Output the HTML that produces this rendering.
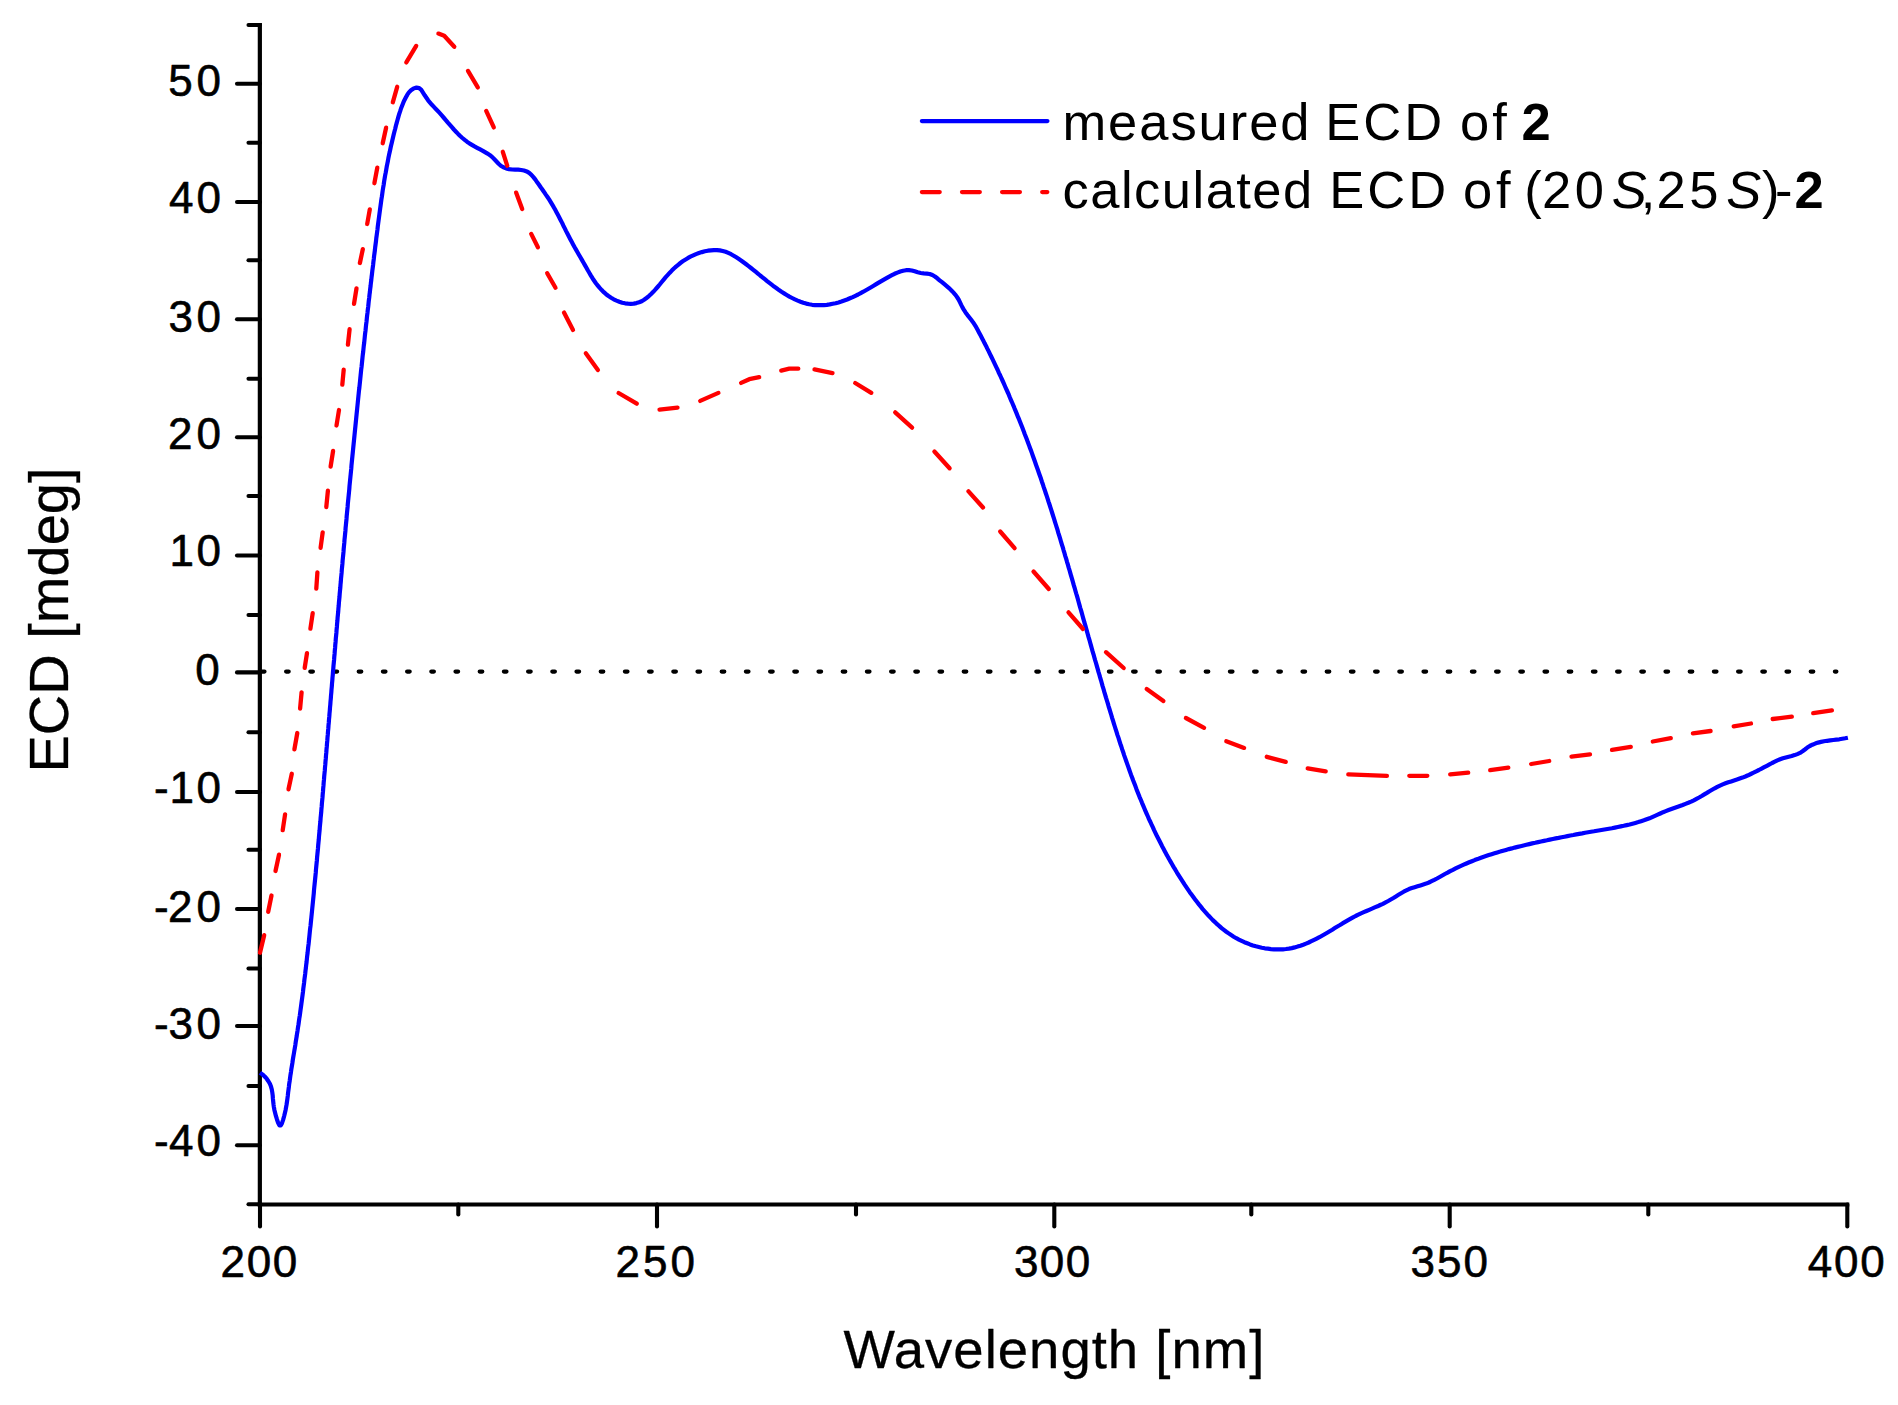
<!DOCTYPE html>
<html lang="en"><head><meta charset="utf-8"><title>ECD spectrum</title>
<style>html,body{margin:0;padding:0;background:#fff}body{width:1898px;height:1405px;overflow:hidden}svg{display:block}text{font-family:"Liberation Sans",sans-serif;fill:#000}</style></head><body>
<svg width="1898" height="1405" viewBox="0 0 1898 1405">
<rect width="1898" height="1405" fill="#fff"/>
<path d="M261.9,671.6H1836.4" stroke="#000" stroke-width="4.2" stroke-linecap="round" stroke-dasharray="2.6 21.6" fill="none"/>
<g stroke="#000" stroke-width="4.2" fill="none" stroke-linecap="butt">
<path d="M259.85,23.0V1206.5"/>
<path d="M257.85,1204.5H1849.3"/>
</g>
<g stroke="#000" stroke-width="4.1" fill="none" stroke-linecap="round">
<path d="M248.5,25.0H259.9"/>
<path d="M237.0,83.8H259.9"/>
<path d="M248.5,142.8H259.9"/>
<path d="M237.0,202.0H259.9"/>
<path d="M248.5,260.2H259.9"/>
<path d="M237.0,319.3H259.9"/>
<path d="M248.5,378.7H259.9"/>
<path d="M237.0,437.3H259.9"/>
<path d="M248.5,496.0H259.9"/>
<path d="M237.0,555.5H259.9"/>
<path d="M248.5,615.0H259.9"/>
<path d="M237.0,672.4H259.9"/>
<path d="M248.5,732.3H259.9"/>
<path d="M237.0,792.0H259.9"/>
<path d="M248.5,849.8H259.9"/>
<path d="M237.0,909.0H259.9"/>
<path d="M248.5,968.5H259.9"/>
<path d="M237.0,1026.0H259.9"/>
<path d="M248.5,1086.0H259.9"/>
<path d="M237.0,1145.2H259.9"/>
<path d="M248.5,1204.3H259.9"/>
<path d="M260.0,1204.5V1226.5"/>
<path d="M458.3,1204.5V1214.5"/>
<path d="M657.0,1204.5V1226.5"/>
<path d="M856.0,1204.5V1214.5"/>
<path d="M1054.3,1204.5V1226.5"/>
<path d="M1251.3,1204.5V1214.5"/>
<path d="M1449.7,1204.5V1226.5"/>
<path d="M1648.3,1204.5V1214.5"/>
<path d="M1847.3,1204.5V1226.5"/>
</g>
<path d="M260.0,1072.7L262.4,1074.4L264.7,1076.5L266.7,1078.7L268.4,1081.2L269.9,1083.8L271.0,1086.6L271.8,1089.5L272.3,1092.5L272.7,1095.5L272.9,1098.5L273.2,1101.5L273.5,1104.3L273.9,1107.1L274.4,1109.9L275.1,1112.8L275.9,1115.9L276.9,1119.2L278.1,1122.7L279.4,1125.3L280.7,1125.5L281.9,1123.4L283.1,1119.9L284.1,1116.2L284.9,1112.9L285.6,1109.9L286.1,1107.1L286.6,1104.4L287.0,1101.6L287.4,1098.7L287.8,1095.8L288.1,1092.8L288.5,1089.8L288.9,1086.8L289.2,1083.8L289.7,1080.8L290.1,1077.8L290.5,1074.8L291.0,1071.8L291.4,1068.8L291.9,1065.8L292.4,1062.9L292.8,1059.9L293.3,1056.9L293.8,1054.0L294.3,1051.0L294.8,1048.1L295.3,1045.1L295.7,1042.2L296.2,1039.2L296.7,1036.2L297.1,1033.3L297.6,1030.3L298.0,1027.4L298.5,1024.4L298.9,1021.4L299.3,1018.5L299.8,1015.5L300.2,1012.5L300.6,1009.5L301.0,1006.6L301.4,1003.6L301.8,1000.6L302.2,997.7L302.6,994.7L303.0,991.7L303.3,988.7L303.7,985.7L304.1,982.8L304.4,979.8L304.8,976.8L305.2,973.8L305.5,970.8L305.9,967.9L306.2,964.9L306.6,961.9L306.9,958.9L307.2,955.9L307.6,952.9L307.9,949.9L308.2,947.0L308.6,944.0L308.9,941.0L309.2,938.0L309.5,935.0L309.8,932.0L310.1,929.0L310.5,926.0L310.8,923.0L311.1,920.0L311.4,917.1L311.7,914.1L312.0,911.1L312.3,908.1L312.6,905.1L312.9,902.1L313.2,899.1L313.5,896.1L313.8,893.1L314.0,890.1L314.3,887.1L314.6,884.2L314.9,881.2L315.2,878.2L315.5,875.2L315.8,872.2L316.0,869.2L316.3,866.2L316.6,863.2L316.9,860.2L317.1,857.2L317.4,854.2L317.7,851.2L318.0,848.2L318.2,845.3L318.5,842.3L318.8,839.3L319.0,836.3L319.3,833.3L319.6,830.3L319.8,827.3L320.1,824.3L320.4,821.3L320.6,818.3L320.9,815.3L321.2,812.3L321.4,809.3L321.7,806.4L321.9,803.4L322.2,800.4L322.5,797.4L322.7,794.4L323.0,791.4L323.2,788.4L323.5,785.4L323.7,782.4L324.0,779.4L324.2,776.4L324.5,773.4L324.8,770.4L325.0,767.4L325.3,764.4L325.5,761.5L325.8,758.5L326.0,755.5L326.3,752.5L326.5,749.5L326.8,746.5L327.0,743.5L327.3,740.5L327.5,737.5L327.8,734.5L328.0,731.5L328.3,728.5L328.5,725.5L328.8,722.5L329.0,719.5L329.3,716.5L329.5,713.6L329.8,710.6L330.0,707.6L330.3,704.6L330.5,701.6L330.8,698.6L331.0,695.6L331.3,692.6L331.5,689.6L331.8,686.6L332.0,683.6L332.3,680.6L332.5,677.6L332.8,674.6L333.0,671.6L333.3,668.6L333.5,665.7L333.8,662.7L334.1,659.7L334.3,656.7L334.6,653.7L334.8,650.7L335.1,647.7L335.3,644.7L335.6,641.7L335.8,638.7L336.1,635.7L336.4,632.7L336.6,629.7L336.9,626.7L337.1,623.7L337.4,620.8L337.6,617.8L337.9,614.8L338.2,611.8L338.4,608.8L338.7,605.8L338.9,602.8L339.2,599.8L339.5,596.8L339.7,593.8L340.0,590.8L340.3,587.8L340.5,584.8L340.8,581.8L341.0,578.8L341.3,575.9L341.6,572.9L341.8,569.9L342.1,566.9L342.4,563.9L342.6,560.9L342.9,557.9L343.2,554.9L343.5,551.9L343.7,548.9L344.0,545.9L344.3,542.9L344.5,539.9L344.8,537.0L345.1,534.0L345.4,531.0L345.6,528.0L345.9,525.0L346.2,522.0L346.5,519.0L346.7,516.0L347.0,513.0L347.3,510.0L347.6,507.0L347.8,504.0L348.1,501.1L348.4,498.1L348.7,495.1L349.0,492.1L349.3,489.1L349.5,486.1L349.8,483.1L350.1,480.1L350.4,477.1L350.7,474.1L351.0,471.1L351.3,468.2L351.5,465.2L351.8,462.2L352.1,459.2L352.4,456.2L352.7,453.2L353.0,450.2L353.3,447.2L353.6,444.2L353.9,441.2L354.2,438.2L354.5,435.3L354.8,432.3L355.1,429.3L355.4,426.3L355.7,423.3L356.0,420.3L356.3,417.3L356.6,414.3L356.9,411.3L357.2,408.4L357.5,405.4L357.8,402.4L358.1,399.4L358.4,396.4L358.7,393.4L359.0,390.4L359.4,387.4L359.7,384.4L360.0,381.5L360.3,378.5L360.6,375.5L360.9,372.5L361.2,369.5L361.6,366.5L361.9,363.5L362.2,360.5L362.5,357.5L362.8,354.6L363.2,351.6L363.5,348.6L363.8,345.6L364.2,342.6L364.5,339.6L364.8,336.6L365.1,333.7L365.5,330.7L365.8,327.7L366.1,324.7L366.5,321.7L366.8,318.7L367.1,315.7L367.5,312.7L367.8,309.8L368.2,306.8L368.5,303.8L368.8,300.8L369.2,297.8L369.5,294.8L369.9,291.9L370.2,288.9L370.6,285.9L370.9,282.9L371.3,279.9L371.6,276.9L372.0,273.9L372.3,271.0L372.7,268.0L373.1,265.0L373.4,262.0L373.8,259.0L374.1,256.0L374.5,253.1L374.9,250.1L375.2,247.1L375.6,244.1L376.0,241.1L376.3,238.1L376.7,235.2L377.1,232.2L377.5,229.2L377.8,226.2L378.2,223.2L378.6,220.3L379.0,217.3L379.4,214.3L379.8,211.3L380.2,208.3L380.6,205.4L381.0,202.4L381.4,199.4L381.9,196.4L382.3,193.5L382.7,190.5L383.2,187.5L383.7,184.6L384.1,181.6L384.6,178.7L385.1,175.7L385.7,172.7L386.2,169.8L386.7,166.8L387.3,163.9L387.9,161.0L388.4,158.0L389.0,155.1L389.7,152.1L390.3,149.2L390.9,146.3L391.6,143.4L392.3,140.4L393.0,137.5L393.7,134.6L394.4,131.7L395.2,128.8L395.9,125.8L396.7,122.9L397.5,120.0L398.3,117.1L399.1,114.2L400.1,111.4L401.0,108.5L402.1,105.7L403.2,102.9L404.4,100.2L405.8,97.5L407.2,94.9L408.9,92.4L411.0,90.2L413.6,88.4L416.5,87.6L419.2,88.1L421.3,89.9L423.0,92.6L424.7,95.3L426.4,97.8L428.1,100.3L430.0,102.6L431.9,104.8L433.9,106.9L435.9,109.1L438.0,111.2L440.0,113.4L442.0,115.7L444.0,118.0L446.0,120.3L447.9,122.6L449.9,124.9L451.9,127.2L453.9,129.5L456.0,131.7L458.1,133.9L460.2,136.0L462.4,138.0L464.7,139.9L467.0,141.7L469.4,143.4L471.9,144.9L474.5,146.4L477.1,147.8L479.7,149.2L482.4,150.6L485.0,152.1L487.5,153.6L490.0,155.2L492.3,157.1L494.4,159.3L496.5,161.5L498.6,163.7L500.8,165.7L503.4,167.3L506.1,168.4L509.0,169.1L512.0,169.5L515.1,169.6L518.2,169.7L521.2,170.0L524.0,170.5L526.7,171.4L529.2,172.9L531.4,174.8L533.4,177.1L535.4,179.6L537.2,182.3L539.0,184.8L540.7,187.3L542.5,189.8L544.2,192.2L545.8,194.6L547.5,197.0L549.1,199.4L550.6,201.9L552.1,204.4L553.6,206.9L555.1,209.6L556.5,212.2L557.9,214.8L559.3,217.5L560.7,220.2L562.1,222.9L563.4,225.7L564.8,228.4L566.1,231.1L567.5,233.8L568.9,236.5L570.3,239.2L571.7,241.8L573.1,244.4L574.5,247.0L576.0,249.6L577.5,252.2L578.9,254.7L580.4,257.3L581.9,259.9L583.4,262.5L584.9,265.1L586.4,267.7L587.8,270.3L589.4,273.0L590.9,275.6L592.5,278.2L594.2,280.7L595.9,283.2L597.8,285.6L599.7,287.9L601.7,290.1L603.8,292.2L606.1,294.2L608.5,296.0L611.1,297.7L613.7,299.3L616.5,300.6L619.3,301.7L622.2,302.7L625.1,303.3L628.0,303.7L630.8,303.8L633.7,303.6L636.4,303.1L639.1,302.3L641.7,301.2L644.1,299.7L646.5,298.0L648.9,296.1L651.1,294.0L653.3,291.8L655.5,289.4L657.6,287.0L659.7,284.5L661.7,282.0L663.7,279.6L665.7,277.2L667.8,274.9L669.8,272.7L671.8,270.6L673.9,268.5L676.0,266.6L678.2,264.8L680.4,263.0L682.7,261.3L685.2,259.7L687.7,258.2L690.4,256.7L693.2,255.4L696.0,254.1L698.9,253.0L701.9,252.1L704.9,251.3L707.9,250.7L710.9,250.3L713.9,250.1L716.9,250.1L719.8,250.4L722.7,251.0L725.6,251.8L728.3,252.9L731.1,254.2L733.7,255.7L736.3,257.3L738.9,259.0L741.4,260.7L743.8,262.5L746.2,264.3L748.6,266.1L751.0,268.0L753.3,269.8L755.6,271.7L757.9,273.6L760.2,275.5L762.5,277.3L764.8,279.2L767.1,281.1L769.4,282.9L771.7,284.7L774.1,286.6L776.6,288.3L779.0,290.1L781.5,291.8L784.1,293.4L786.7,295.0L789.4,296.6L792.1,298.0L794.9,299.4L797.7,300.6L800.5,301.7L803.3,302.7L806.2,303.6L809.1,304.3L812.1,304.8L815.0,305.1L817.9,305.2L820.9,305.2L823.8,305.1L826.8,304.8L829.7,304.4L832.7,303.8L835.6,303.2L838.5,302.4L841.4,301.5L844.3,300.5L847.1,299.5L849.9,298.3L852.7,297.1L855.4,295.8L858.1,294.5L860.7,293.1L863.3,291.7L865.9,290.2L868.5,288.7L871.1,287.2L873.6,285.7L876.2,284.1L878.7,282.6L881.3,281.1L883.9,279.6L886.5,278.1L889.2,276.6L891.9,275.2L894.6,273.8L897.4,272.6L900.3,271.5L903.1,270.7L906.0,270.2L908.9,270.1L911.8,270.5L914.7,271.3L917.7,272.3L920.7,273.0L923.8,273.4L926.8,273.6L929.7,274.0L932.4,275.0L934.9,276.5L937.3,278.3L939.6,280.3L942.0,282.2L944.4,284.2L946.7,286.1L949.0,288.1L951.2,290.2L953.3,292.4L955.2,294.6L957.0,297.0L958.6,299.5L959.9,302.2L961.2,304.9L962.6,307.6L964.1,310.2L965.7,312.7L967.5,315.1L969.4,317.5L971.2,319.8L973.0,322.2L974.6,324.7L976.2,327.2L977.6,329.8L979.0,332.5L980.4,335.1L981.8,337.8L983.2,340.4L984.5,343.1L985.9,345.7L987.2,348.4L988.6,351.1L989.9,353.8L991.2,356.5L992.5,359.2L993.8,361.9L995.1,364.6L996.4,367.3L997.7,370.0L998.9,372.8L1000.2,375.5L1001.4,378.2L1002.7,381.0L1003.9,383.7L1005.1,386.5L1006.3,389.2L1007.6,392.0L1008.8,394.7L1009.9,397.5L1011.1,400.3L1012.3,403.0L1013.5,405.8L1014.6,408.6L1015.8,411.4L1016.9,414.1L1018.0,416.9L1019.2,419.7L1020.3,422.5L1021.4,425.3L1022.5,428.1L1023.6,430.9L1024.6,433.7L1025.7,436.5L1026.8,439.3L1027.8,442.1L1028.9,444.9L1029.9,447.7L1031.0,450.6L1032.0,453.4L1033.0,456.2L1034.0,459.0L1035.0,461.8L1036.0,464.7L1037.0,467.5L1038.0,470.3L1039.0,473.2L1040.0,476.0L1041.0,478.8L1041.9,481.7L1042.9,484.5L1043.8,487.4L1044.8,490.2L1045.7,493.0L1046.7,495.9L1047.6,498.7L1048.5,501.6L1049.5,504.5L1050.4,507.3L1051.3,510.2L1052.2,513.0L1053.1,515.9L1054.0,518.7L1054.9,521.6L1055.8,524.5L1056.7,527.3L1057.6,530.2L1058.4,533.1L1059.3,535.9L1060.2,538.8L1061.0,541.7L1061.9,544.6L1062.8,547.4L1063.6,550.3L1064.5,553.2L1065.3,556.1L1066.2,558.9L1067.0,561.8L1067.9,564.7L1068.7,567.6L1069.6,570.5L1070.4,573.3L1071.2,576.2L1072.1,579.1L1072.9,582.0L1073.7,584.9L1074.6,587.8L1075.4,590.7L1076.2,593.5L1077.1,596.4L1077.9,599.3L1078.7,602.2L1079.5,605.1L1080.3,608.0L1081.2,610.9L1082.0,613.8L1082.8,616.7L1083.6,619.6L1084.4,622.5L1085.3,625.3L1086.1,628.2L1086.9,631.1L1087.7,634.0L1088.5,636.9L1089.4,639.8L1090.2,642.7L1091.0,645.6L1091.8,648.5L1092.6,651.4L1093.5,654.3L1094.3,657.2L1095.1,660.1L1096.0,663.0L1096.8,665.9L1097.6,668.7L1098.4,671.6L1099.3,674.5L1100.1,677.4L1101.0,680.3L1101.8,683.2L1102.6,686.1L1103.5,689.0L1104.3,691.9L1105.2,694.8L1106.0,697.6L1106.9,700.5L1107.8,703.4L1108.6,706.3L1109.5,709.2L1110.4,712.1L1111.3,715.0L1112.1,717.8L1113.0,720.7L1113.9,723.6L1114.8,726.5L1115.7,729.3L1116.6,732.2L1117.5,735.1L1118.5,737.9L1119.4,740.8L1120.3,743.7L1121.3,746.5L1122.2,749.4L1123.2,752.2L1124.1,755.1L1125.1,757.9L1126.1,760.7L1127.1,763.6L1128.1,766.4L1129.1,769.2L1130.1,772.1L1131.1,774.9L1132.2,777.7L1133.2,780.5L1134.3,783.3L1135.4,786.1L1136.4,788.9L1137.5,791.7L1138.6,794.5L1139.7,797.3L1140.9,800.0L1142.0,802.8L1143.2,805.6L1144.3,808.3L1145.5,811.1L1146.7,813.8L1147.9,816.5L1149.1,819.3L1150.4,822.0L1151.6,824.7L1152.9,827.4L1154.1,830.1L1155.4,832.8L1156.7,835.5L1158.1,838.2L1159.4,840.8L1160.8,843.5L1162.1,846.2L1163.5,848.8L1164.9,851.5L1166.3,854.1L1167.8,856.7L1169.2,859.3L1170.7,861.9L1172.2,864.5L1173.7,867.1L1175.3,869.7L1176.8,872.3L1178.4,874.8L1180.0,877.4L1181.6,879.9L1183.2,882.4L1184.8,884.9L1186.5,887.4L1188.2,889.9L1189.9,892.4L1191.7,894.8L1193.5,897.3L1195.3,899.7L1197.1,902.1L1198.9,904.4L1200.8,906.7L1202.7,909.1L1204.7,911.3L1206.7,913.6L1208.7,915.8L1210.7,917.9L1212.8,920.1L1215.0,922.1L1217.1,924.2L1219.4,926.1L1221.6,928.1L1223.9,929.9L1226.3,931.7L1228.7,933.4L1231.2,935.1L1233.7,936.7L1236.3,938.2L1238.9,939.6L1241.6,940.9L1244.4,942.2L1247.2,943.3L1250.0,944.4L1252.9,945.4L1255.9,946.3L1258.8,947.0L1261.8,947.7L1264.8,948.3L1267.8,948.7L1270.9,949.1L1273.9,949.3L1276.9,949.4L1279.9,949.4L1282.9,949.3L1285.9,949.0L1288.9,948.6L1291.8,948.1L1294.7,947.4L1297.6,946.6L1300.4,945.7L1303.2,944.7L1306.0,943.6L1308.7,942.5L1311.4,941.2L1314.1,939.9L1316.7,938.6L1319.4,937.2L1322.0,935.7L1324.6,934.2L1327.2,932.7L1329.7,931.2L1332.3,929.7L1334.8,928.1L1337.4,926.5L1340.0,925.0L1342.5,923.4L1345.1,921.9L1347.7,920.4L1350.3,918.9L1353.0,917.4L1355.6,916.0L1358.3,914.7L1361.0,913.4L1363.7,912.2L1366.5,911.0L1369.2,909.8L1372.0,908.6L1374.7,907.4L1377.5,906.3L1380.2,905.0L1382.9,903.8L1385.6,902.4L1388.2,901.0L1390.8,899.5L1393.4,898.0L1395.9,896.4L1398.5,894.8L1401.1,893.2L1403.7,891.7L1406.3,890.4L1409.0,889.1L1411.8,888.1L1414.6,887.2L1417.5,886.3L1420.4,885.4L1423.3,884.5L1426.1,883.6L1428.9,882.5L1431.6,881.2L1434.3,879.9L1437.0,878.5L1439.7,877.0L1442.3,875.5L1444.9,874.0L1447.6,872.6L1450.2,871.1L1452.9,869.8L1455.6,868.4L1458.3,867.1L1461.0,865.9L1463.7,864.7L1466.4,863.5L1469.2,862.3L1471.9,861.2L1474.7,860.1L1477.5,859.1L1480.3,858.0L1483.1,857.0L1485.9,856.1L1488.8,855.1L1491.6,854.2L1494.5,853.3L1497.3,852.4L1500.2,851.6L1503.1,850.7L1506.0,849.9L1508.9,849.1L1511.8,848.4L1514.7,847.6L1517.6,846.9L1520.5,846.2L1523.5,845.5L1526.4,844.8L1529.3,844.1L1532.2,843.4L1535.2,842.8L1538.1,842.1L1541.0,841.5L1544.0,840.9L1546.9,840.3L1549.8,839.6L1552.8,839.0L1555.7,838.4L1558.6,837.9L1561.6,837.3L1564.5,836.7L1567.4,836.1L1570.4,835.5L1573.3,835.0L1576.3,834.4L1579.2,833.9L1582.2,833.4L1585.1,832.8L1588.1,832.3L1591.0,831.8L1594.0,831.3L1597.0,830.7L1600.0,830.2L1602.9,829.7L1605.9,829.2L1608.9,828.7L1611.9,828.2L1614.9,827.6L1617.8,827.0L1620.8,826.4L1623.7,825.8L1626.7,825.1L1629.6,824.5L1632.5,823.7L1635.4,822.9L1638.3,822.1L1641.1,821.2L1643.9,820.3L1646.7,819.3L1649.5,818.3L1652.2,817.1L1655.0,815.9L1657.7,814.7L1660.3,813.5L1663.1,812.2L1665.8,811.1L1668.6,810.0L1671.4,809.0L1674.2,808.0L1677.1,807.0L1679.9,806.0L1682.7,805.0L1685.5,803.9L1688.3,802.8L1691.1,801.6L1693.8,800.3L1696.5,798.9L1699.1,797.5L1701.7,796.0L1704.3,794.4L1706.9,792.9L1709.5,791.3L1712.1,789.8L1714.7,788.3L1717.3,786.9L1720.0,785.6L1722.7,784.4L1725.5,783.3L1728.3,782.3L1731.2,781.4L1734.0,780.5L1736.9,779.6L1739.7,778.6L1742.5,777.6L1745.3,776.5L1748.1,775.3L1750.8,774.0L1753.5,772.7L1756.2,771.3L1758.9,770.0L1761.6,768.6L1764.2,767.2L1766.9,765.8L1769.5,764.4L1772.1,763.0L1774.8,761.7L1777.4,760.4L1780.1,759.3L1782.9,758.3L1785.8,757.5L1788.7,756.7L1791.7,756.0L1794.6,755.1L1797.3,754.1L1800.0,752.9L1802.5,751.3L1804.9,749.5L1807.3,747.6L1809.8,746.0L1812.4,744.7L1815.2,743.6L1818.1,742.6L1821.0,741.9L1824.0,741.3L1827.1,740.8L1830.2,740.4L1833.3,740.0L1836.3,739.6L1839.3,739.3L1842.3,738.8L1845.1,738.3L1847.9,737.7" fill="none" stroke="#0000ff" stroke-width="4.2" stroke-linejoin="round" stroke-linecap="butt"/>
<g fill="none" stroke="#ff0000" stroke-width="4.3" stroke-linecap="round" stroke-linejoin="round">
<path d="M260.0,952.7L264.2,935.2"/>
<path d="M268.2,911.8L271.5,895.5"/>
<path d="M275.5,871.0L279.0,854.7"/>
<path d="M282.7,830.2L285.1,814.3"/>
<path d="M288.5,789.3L291.8,773.8"/>
<path d="M294.4,749.3L297.3,733.0"/>
<path d="M300.1,708.5L301.6,692.3"/>
<path d="M304.7,667.8L307.0,653.2"/>
<path d="M310.4,628.7L312.7,613.2"/>
<path d="M316.3,588.7L317.4,572.3"/>
<path d="M320.6,547.8L322.7,532.3"/>
<path d="M326.3,507.0L327.9,490.7"/>
<path d="M330.6,466.6L333.1,450.8"/>
<path d="M336.5,425.5L339.0,410.0"/>
<path d="M342.3,384.7L343.7,369.7"/>
<path d="M347.9,344.7L349.6,329.2"/>
<path d="M354.0,303.8L356.5,288.3"/>
<path d="M359.9,263.0L362.8,249.2"/>
<path d="M367.2,224.0L369.8,209.3"/>
<path d="M374.4,183.2L377.3,167.7"/>
<path d="M382.7,143.2L386.1,127.7"/>
<path d="M392.8,102.3L397.2,86.8"/>
<path d="M406.3,62.4L416.2,45.9"/>
<path d="M438.4,33.6L444.2,35.8L454.3,46.8"/>
<path d="M468.0,70.9L477.8,87.4"/>
<path d="M486.2,110.9L493.8,127.4"/>
<path d="M502.8,151.8L507.2,165.7"/>
<path d="M516.1,192.6L522.2,209.1"/>
<path d="M531.2,233.9L537.9,247.3"/>
<path d="M547.2,273.2L555.5,287.7"/>
<path d="M564.0,312.6L573.0,329.9"/>
<path d="M585.8,353.3L597.9,370.0"/>
<path d="M618.6,393.0L636.8,403.7"/>
<path d="M659.5,409.6L677.5,407.6"/>
<path d="M700.2,400.9L718.4,392.9"/>
<path d="M741.1,382.9L749.3,379.2L759.2,377.2"/>
<path d="M781.2,370.6L789.3,368.7L798.3,368.7"/>
<path d="M814.5,369.4L832.5,373.1"/>
<path d="M855.2,383.0L871.3,392.8"/>
<path d="M895.2,412.4L912.1,427.6"/>
<path d="M934.4,451.5L949.6,468.3"/>
<path d="M968.5,491.4L983.0,507.5"/>
<path d="M1000.2,531.5L1014.6,548.2"/>
<path d="M1033.5,571.5L1048.8,589.0"/>
<path d="M1068.5,612.3L1083.0,629.0"/>
<path d="M1106.0,652.2L1123.7,668.0"/>
<path d="M1146.7,689.1L1163.4,701.1"/>
<path d="M1185.9,718.0L1204.1,727.8"/>
<path d="M1226.3,741.2L1244.1,747.9"/>
<path d="M1266.8,756.8L1285.7,761.9"/>
<path d="M1307.7,768.4L1325.7,771.3"/>
<path d="M1348.3,774.4L1386.9,775.8"/>
<path d="M1409.3,775.8L1427.3,775.8"/>
<path d="M1450.2,774.4L1468.2,772.6"/>
<path d="M1490.2,770.2L1508.3,767.6"/>
<path d="M1531.2,764.0L1549.2,761.0"/>
<path d="M1571.5,756.6L1590.0,754.3"/>
<path d="M1612.0,749.8L1630.8,746.9"/>
<path d="M1652.8,741.5L1670.8,738.2"/>
<path d="M1692.9,733.3L1710.6,731.0"/>
<path d="M1733.7,726.4L1751.0,723.5"/>
<path d="M1772.7,719.0L1791.8,716.7"/>
<path d="M1813.2,713.2L1831.9,710.3"/>
</g>
<g font-size="44" stroke="#000" stroke-width="0.6" stroke-linejoin="round">
<text y="95.8"><tspan x="168.3" letter-spacing="3.74">50</tspan></text>
<text y="213.1"><tspan x="169.1" letter-spacing="2.99">40</tspan></text>
<text y="332.0"><tspan x="168.4" letter-spacing="3.65">30</tspan></text>
<text y="449.0"><tspan x="167.9" letter-spacing="4.19">20</tspan></text>
<text y="566.3"><tspan x="169.6" letter-spacing="2.43">10</tspan></text>
<text y="685.2"><tspan x="195.2" letter-spacing="0.00">0</tspan></text>
<text y="802.6"><tspan x="154.0" letter-spacing="0.00">-</tspan><tspan x="169.6" letter-spacing="2.43">10</tspan></text>
<text y="921.8"><tspan x="154.0" letter-spacing="0.00">-</tspan><tspan x="167.9" letter-spacing="4.19">20</tspan></text>
<text y="1038.9"><tspan x="154.0" letter-spacing="0.00">-</tspan><tspan x="168.4" letter-spacing="3.65">30</tspan></text>
<text y="1155.7"><tspan x="154.0" letter-spacing="0.00">-</tspan><tspan x="169.1" letter-spacing="2.99">40</tspan></text>
<text y="1277.4"><tspan x="220.6" letter-spacing="1.61">200</tspan></text>
<text y="1277.4"><tspan x="615.6" letter-spacing="2.96">250</tspan></text>
<text y="1277.4"><tspan x="1013.9" letter-spacing="1.44">300</tspan></text>
<text y="1277.4"><tspan x="1410.5" letter-spacing="1.99">350</tspan></text>
<text y="1277.4"><tspan x="1807.7" letter-spacing="1.76">400</tspan></text>
</g>
<text x="843.4" y="1367.5" font-size="54.5" letter-spacing="1" stroke="#000" stroke-width="0.3" stroke-linejoin="round">Wavelength [nm]</text>
<text transform="translate(68.1,772.5) rotate(-90)" font-size="56" stroke="#000" stroke-width="0.3" stroke-linejoin="round">ECD [mdeg]</text>
<path d="M921.9,121.05H1047.4" stroke="#0000ff" stroke-width="4.3" stroke-linecap="round" fill="none"/>
<path d="M921.9,192.1H1047.3" stroke="#ff0000" stroke-width="4.3" stroke-linecap="round" stroke-dasharray="17.8 22.3" fill="none"/>
<text y="140.2" font-size="52.5"><tspan x="1062.4" letter-spacing="1.96">measured</tspan> <tspan x="1325.2" letter-spacing="3.04">ECD</tspan> <tspan x="1460.1" letter-spacing="3.04">of</tspan> <tspan x="1521.6" letter-spacing="0.00" font-weight="bold">2</tspan></text>
<text y="207.5" font-size="52.5"><tspan x="1062.6" letter-spacing="1.47">calculated</tspan> <tspan x="1329.2" letter-spacing="3.09">ECD</tspan> <tspan x="1463.1" letter-spacing="3.64">of</tspan> <tspan x="1524.2" letter-spacing="0.00">(</tspan><tspan x="1542.1" letter-spacing="3.50">20</tspan><tspan x="1611.7" letter-spacing="0.00" font-style="italic">S</tspan><tspan x="1640.8" letter-spacing="0.00">,</tspan><tspan x="1656.6" letter-spacing="3.35">25</tspan><tspan x="1726.2" letter-spacing="0.00" font-style="italic">S</tspan><tspan x="1762.1" letter-spacing="0.00">)</tspan><tspan x="1774.9" letter-spacing="0.00">-</tspan><tspan x="1794.4" letter-spacing="0.00" font-weight="bold">2</tspan></text>
</svg></body></html>
